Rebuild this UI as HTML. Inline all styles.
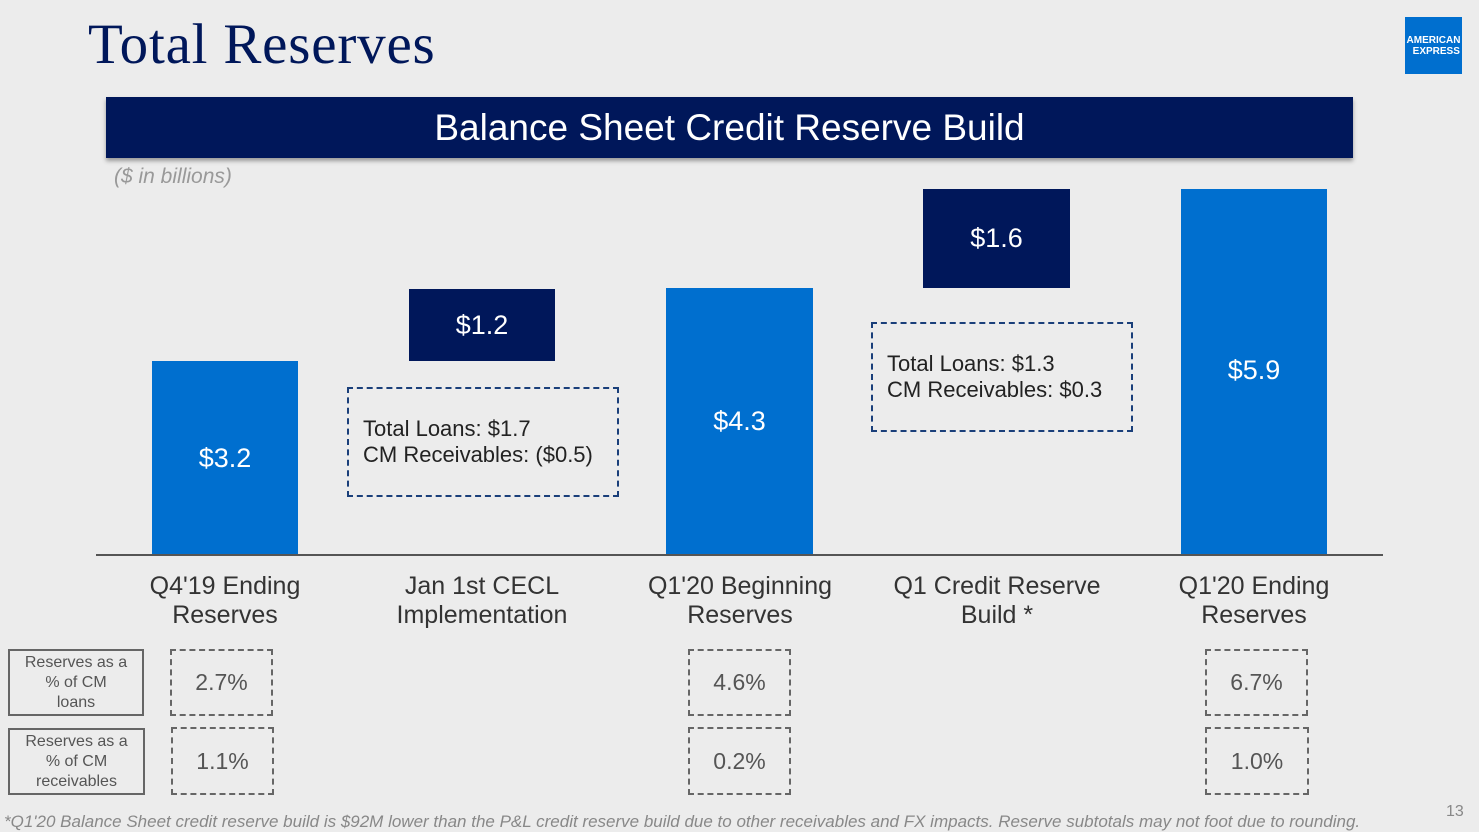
<!DOCTYPE html>
<html><head><style>
body{margin:0;width:1479px;height:832px;background:#ececec;position:relative;overflow:hidden;font-family:"Liberation Sans",sans-serif;}
div{position:absolute;box-sizing:border-box}
.bar{background:#006fcf;color:#fff;font-size:27px;display:flex;align-items:center;justify-content:center}
.dk{background:#00175a;color:#fff;font-size:27px;display:flex;align-items:center;justify-content:center}
.dash{border:2px dashed #1a3f7a;color:#222;font-size:22px;padding-left:14px;line-height:26px;display:flex;flex-direction:column;justify-content:center}
.lab{color:#333;font-size:25px;text-align:center;line-height:29px;width:260px}
.pb{border:2px dashed #666;color:#555;font-size:23px;display:flex;align-items:center;justify-content:center}
.sb{border:2px solid #666;color:#555;font-size:16px;text-align:center;line-height:20px;display:flex;align-items:center;justify-content:center}
</style></head><body>
<div style="left:88px;top:12px;font-family:'Liberation Serif',serif;font-size:57px;letter-spacing:0.8px;color:#00175a">Total Reserves</div>
<div style="left:1405px;top:17px;width:57px;height:57px;background:#006fcf;color:#fff;font-size:10px;font-weight:bold;line-height:11px;padding-top:18px;text-align:center">AMERICAN<br>&nbsp;&nbsp;EXPRESS</div>
<div style="left:106px;top:97px;width:1247px;height:61px;background:#00175a;color:#fff;font-size:37px;display:flex;align-items:center;justify-content:center;box-shadow:0 3px 4px #999">Balance Sheet Credit Reserve Build</div>
<div style="left:114px;top:165px;font-size:21px;color:#999;font-style:italic">($ in billions)</div>
<div class="bar" style="left:152px;top:361px;width:146px;height:194px">$3.2</div>
<div class="dk" style="left:409px;top:289px;width:146px;height:72px">$1.2</div>
<div class="bar" style="left:666px;top:288px;width:147px;height:267px">$4.3</div>
<div class="dk" style="left:923px;top:189px;width:147px;height:99px">$1.6</div>
<div class="bar" style="left:1181px;top:189px;width:146px;height:366px;align-items:flex-start;padding-top:166px">$5.9</div>
<div class="dash" style="left:347px;top:387px;width:272px;height:110px">Total Loans: $1.7<br>CM Receivables: ($0.5)</div>
<div class="dash" style="left:871px;top:322px;width:262px;height:110px">Total Loans: $1.3<br>CM Receivables: $0.3</div>
<div style="left:96px;top:554px;width:1287px;height:2px;background:#555"></div>
<div class="lab" style="left:95px;top:572px">Q4'19 Ending<br>Reserves</div>
<div class="lab" style="left:352px;top:572px">Jan 1st CECL<br>Implementation</div>
<div class="lab" style="left:610px;top:572px">Q1'20 Beginning<br>Reserves</div>
<div class="lab" style="left:867px;top:572px">Q1 Credit Reserve<br>Build *</div>
<div class="lab" style="left:1124px;top:572px">Q1'20 Ending<br>Reserves</div>
<div class="sb" style="left:8px;top:649px;width:136px;height:67px">Reserves as a<br>% of CM<br>loans</div>
<div class="sb" style="left:8px;top:728px;width:137px;height:67px">Reserves as a<br>% of CM<br>receivables</div>
<div class="pb" style="left:170px;top:649px;width:103px;height:67px">2.7%</div>
<div class="pb" style="left:171px;top:727px;width:103px;height:68px">1.1%</div>
<div class="pb" style="left:688px;top:649px;width:103px;height:67px">4.6%</div>
<div class="pb" style="left:688px;top:727px;width:103px;height:68px">0.2%</div>
<div class="pb" style="left:1205px;top:649px;width:103px;height:67px">6.7%</div>
<div class="pb" style="left:1205px;top:727px;width:104px;height:68px">1.0%</div>
<div style="left:4px;top:812px;font-size:17px;color:#888;font-style:italic;white-space:nowrap">*Q1'20 Balance Sheet credit reserve build is $92M lower than the P&amp;L credit reserve build due to other receivables and FX impacts. Reserve subtotals may not foot due to rounding.</div>
<div style="left:1446px;top:803px;font-size:16px;color:#888">13</div>
</body></html>
